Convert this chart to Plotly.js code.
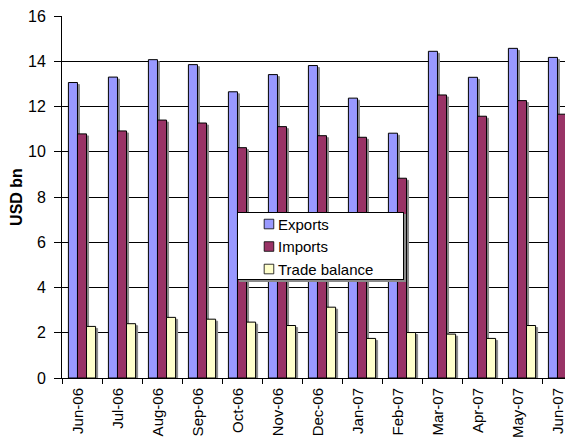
<!DOCTYPE html>
<html><head><meta charset="utf-8">
<script src="https://cdn.plot.ly/plotly-3.0.1.min.js"></script>
<style>
html,body{margin:0;padding:0;overflow:hidden;background:#fff;}
#chart{width:600px;height:439px;}
.bars .point path{filter:drop-shadow(2px 2px 0 #8a8a8a);}
.legend rect.bg{filter:drop-shadow(2px 2px 0 #8a8a8a);}
</style></head><body><div id="chart"></div>
<script>
const months = ["Jun-06","Jul-06","Aug-06","Sep-06","Oct-06","Nov-06","Dec-06","Jan-07","Feb-07","Mar-07","Apr-07","May-07","Jun-07"];
const exportsVals = [13.06,13.30,14.07,13.85,12.65,13.41,13.81,12.37,10.82,14.44,13.29,14.57,14.17];
const importsVals = [10.79,10.92,11.40,11.27,10.18,11.11,10.71,10.64,8.83,12.51,11.57,12.26,11.66];
const balanceVals = [2.28,2.40,2.68,2.60,2.47,2.32,3.13,1.75,2.01,1.94,1.75,2.32,2.51];
const seriesNames = ["Exports","Imports","Trade balance"];
const seriesColors = ["#9999FF","#993366","#FFFFCC"];
const seriesData = [exportsVals, importsVals, balanceVals];

const traces = seriesData.map((vals, i) => ({
  type: "bar",
  name: seriesNames[i],
  x: months,
  y: vals,
  marker: {color: seriesColors[i], line: {color: "#000000", width: 1}}
}));

const layout = {
  width: 600, height: 439,
  margin: {l: 62, r: 18, t: 16, b: 61},
  paper_bgcolor: "#ffffff", plot_bgcolor: "#ffffff",
  font: {family: "Liberation Sans, Arial, sans-serif", size: 15, color: "#000"},
  barmode: "group",
  bargap: 0.32,
  bargroupgap: 0,
  showlegend: true,
  legend: {
    x: 0.3365, y: 0.473, xanchor: "left", yanchor: "top",
    bgcolor: "#ffffff", bordercolor: "#000000", borderwidth: 1,
    font: {size: 15, family: "Liberation Sans, Arial, sans-serif"},
    tracegroupgap: 0
  },
  xaxis: {
    type: "category",
    tickangle: -90,
    ticks: "outside", ticklen: 5, tickcolor: "#000",
    tickson: "boundaries",
    ticklabelstandoff: 3,
    ticklabelshift: -4,
    showline: true, linecolor: "#000", linewidth: 1,
    tickfont: {size: 15},
    showgrid: false
  },
  yaxis: {
    range: [0, 16], dtick: 2,
    ticks: "outside", ticklen: 7, tickcolor: "#000",
    ticklabelstandoff: 5,
    showline: true, linecolor: "#000", linewidth: 1,
    gridcolor: "#000", gridwidth: 1,
    zeroline: false,
    tickfont: {size: 16},
    title: {text: "<b>USD bn</b>", font: {size: 16}, standoff: 1}
  }
};

Plotly.newPlot("chart", traces, layout, {displayModeBar: false, staticPlot: true}).then(() => {
  // trim the legend box to the reference's proportions
  const bg = document.querySelector(".legend rect.bg");
  if (bg) {
    bg.style.y = "6px";
    bg.style.height = "67px";
    bg.style.width = "166px";
  }
  document.querySelectorAll(".legend .legendpoints path").forEach(p => {
    p.style.transform = "translate(31px, 0px) scale(0.8)";
  });
});
</script>
</body></html>
